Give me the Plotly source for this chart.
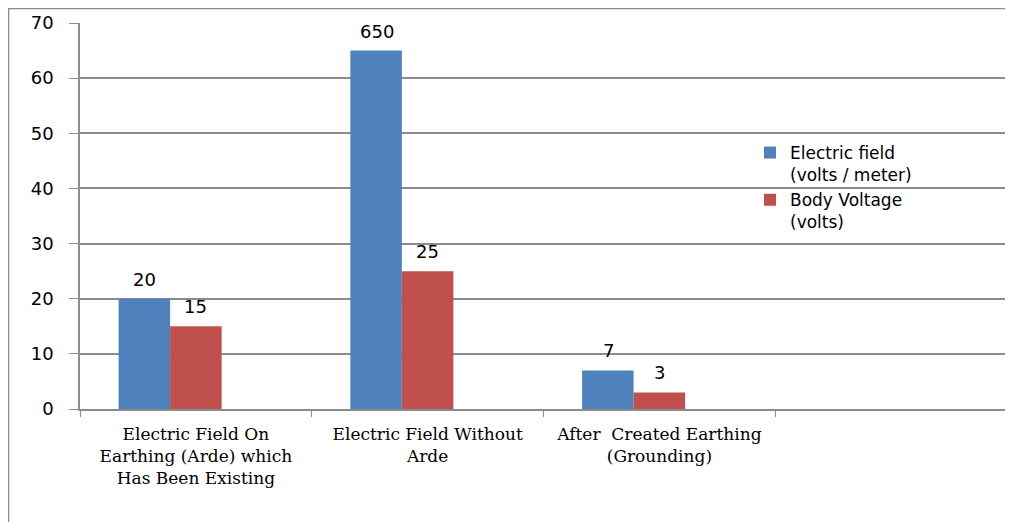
import plotly.graph_objects as go

categories = [
    "Electric Field On<br>Earthing (Arde) which<br>Has Been Existing",
    "Electric Field Without<br>Arde",
    "After  Created Earthing<br>(Grounding)",
    " ",
]
electric_field = [20, 65, 7, None]
electric_field_labels = ["20", "650", "7", ""]
body_voltage = [15, 25, 3, None]
body_voltage_labels = ["15", "25", "3", ""]
empty_series = [None, None, None, None]

BLUE = "#4F81BD"
RED = "#C0504D"
GRID = "#8C8C8C"
SANS = "DejaVu Sans"
SERIF = "DejaVu Serif"

# page has an 8px body margin: figure coords = screen coords - 8
OFF = 8
W, H = 1013 - OFF, 522 - OFF
L, T = 80 - OFF, 23 - OFF
RGT = 1007 - OFF
BOT = 409 - OFF
R, B = W - RGT, H - BOT
pw, ph = W - L - R, H - T - B


def px2x(px):
    return (px - OFF - L) / pw


def py2y(py):
    return (H - B - (py - OFF)) / ph


fig = go.Figure()
fig.add_trace(go.Bar(
    x=categories, y=electric_field, name="Electric field<br>(volts / meter)",
    marker=dict(color=BLUE, line=dict(width=0)),
))
fig.add_trace(go.Bar(
    x=categories, y=body_voltage, name="Body Voltage<br>(volts)",
    marker=dict(color=RED, line=dict(width=0)),
))
fig.add_trace(go.Bar(
    x=categories, y=empty_series, name="", showlegend=False,
    marker=dict(color="white"),
))

# data labels, placed via the axes (category + value)
for vals, labels, xshift in ((electric_field, electric_field_labels, -25.5),
                             (body_voltage, body_voltage_labels, 25.5)):
    for cat, v, lab in zip(categories, vals, labels):
        if v is None or not lab:
            continue
        fig.add_annotation(
            x=cat, y=v, xref="x", yref="y", text=lab, showarrow=False,
            xanchor="center", yanchor="bottom", xshift=xshift - 25.5, yshift=7,
            font=dict(family=SANS, size=18, color="black"),
        )

fig.add_shape(
    type="path", xref="paper", yref="paper",
    path=f"M {px2x(8.5)} {py2y(530)} L {px2x(8.5)} {py2y(8.5)} L {px2x(1020)} {py2y(8.5)}",
    line=dict(color="#8C8C8C", width=1.5),
)

fig.update_layout(
    width=W, height=H,
    margin=dict(l=L, r=R, t=T, b=B, autoexpand=False),
    paper_bgcolor="white", plot_bgcolor="white",
    barmode="group", bargap=0.333, bargroupgap=0,
    legend=dict(
        x=px2x(750), y=py2y(135), xanchor="left", yanchor="top",
        font=dict(family=SANS, size=17, color="black"),
        bgcolor="rgba(0,0,0,0)", valign="top",
        itemwidth=30, tracegroupgap=0,
    ),
    xaxis=dict(
        type="category", tickson="boundaries", ticks="outside", ticklen=6,
        tickcolor=GRID, showline=True, linecolor=GRID, linewidth=1.5,
        showgrid=False, tickfont=dict(family=SERIF, size=17, color="black"),
        range=[-0.5, 3.5], ticklabelstandoff=9,
    ),
    yaxis=dict(
        range=[0, 70], dtick=10, ticks="outside", ticklen=9, tickcolor=GRID,
        showline=True, linecolor=GRID, linewidth=1.5,
        showgrid=True, gridcolor=GRID, gridwidth=1.5,
        zeroline=False, ticklabelstandoff=12,
        tickfont=dict(family=SANS, size=18, color="black"),
    ),
    showlegend=True,
)

fig.write_html("out.html")
